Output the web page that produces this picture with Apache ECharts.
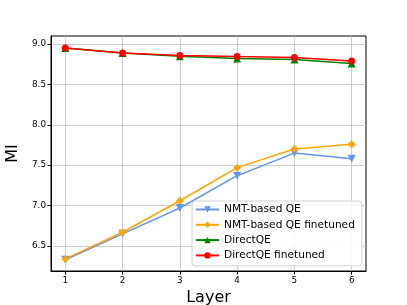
<!DOCTYPE html>
<html><head><meta charset="utf-8">
<script src="https://cdn.jsdelivr.net/npm/echarts@6/dist/echarts.min.js"></script>
<style>html,body{margin:0;padding:0;background:#fff}#c{width:407px;height:305px}</style>
</head><body><div id="c"></div>
<script>
const layers = [1, 2, 3, 4, 5, 6];
const xTicks = [1, 2, 3, 4, 5, 6];
const yTicks = [6.5, 7.0, 7.5, 8.0, 8.5, 9.0];
const nmtQE = [6.33, 6.65, 6.97, 7.37, 7.65, 7.58];
const nmtQEFinetuned = [6.34, 6.67, 7.06, 7.47, 7.70, 7.76];
const directQE = [8.95, 8.89, 8.85, 8.82, 8.81, 8.76];
const directQEFinetuned = [8.95, 8.89, 8.86, 8.845, 8.835, 8.79];

const F = 'DejaVu Sans';
function mk(name, vals, color, symbol, rotate) {
  return {
    name, type: 'line', data: layers.map((l, i) => [l, vals[i]]),
    symbol, symbolSize: symbol === 'circle' ? 7 : 8, symbolRotate: rotate || 0,
    lineStyle: { color, width: 1.5 }, itemStyle: { color },
    emphasis: { disabled: true }, animation: false
  };
}
const chart = echarts.init(document.getElementById('c'), null, { renderer: 'canvas' });
chart.setOption({
  animation: false,
  grid: { left: 51, right: 41, top: 36, bottom: 34, show: true, borderColor: '#000', borderWidth: 1, backgroundColor: 'transparent', containLabel: false, outerBoundsMode: 'none' },
  xAxis: {
    type: 'value', min: 0.75, max: 6.25,
    name: 'Layer', nameLocation: 'middle', nameGap: 16,
    nameTextStyle: { fontFamily: F, fontSize: 16, color: '#000' },
    axisLine: { show: true, lineStyle: { color: '#000' } },
    axisTick: { show: true, length: 3.5, lineStyle: { color: '#000' }, customValues: xTicks },
    axisLabel: { fontFamily: F, fontSize: 8.8, color: '#000', margin: 5, customValues: xTicks, formatter: v => String(v) },
    splitLine: { show: true, lineStyle: { color: '#c0c0c0', width: 0.8 }, customValues: xTicks }
  },
  yAxis: {
    type: 'value', min: 6.19, max: 9.10,
    name: 'MI', nameLocation: 'middle', nameGap: 24, nameRotate: 90,
    nameTextStyle: { fontFamily: F, fontSize: 16, color: '#000' },
    axisLine: { show: true, lineStyle: { color: '#000' } },
    axisTick: { show: true, length: 3.5, lineStyle: { color: '#000' }, customValues: yTicks },
    axisLabel: { fontFamily: F, fontSize: 8.8, color: '#000', margin: 5, customValues: yTicks, formatter: v => v.toFixed(1) },
    splitLine: { show: true, lineStyle: { color: '#c0c0c0', width: 0.8 }, customValues: yTicks }
  },
  legend: {
    orient: 'vertical', left: 192, top: 201,
    itemWidth: 23, itemHeight: 8, itemGap: 4.3,
    padding: [3, 7, 5, 3],
    backgroundColor: 'rgba(255,255,255,0.85)', borderColor: '#d0d0d0', borderWidth: 1, borderRadius: 3,
    textStyle: { fontFamily: F, fontSize: 10.6, color: '#000' },
    data: ['NMT-based QE', 'NMT-based QE finetuned', 'DirectQE', 'DirectQE finetuned']
  },
  series: [
    mk('NMT-based QE', nmtQE, '#6495ED', 'triangle', 180),
    mk('NMT-based QE finetuned', nmtQEFinetuned, '#FFA500', 'diamond'),
    mk('DirectQE', directQE, '#008000', 'triangle'),
    mk('DirectQE finetuned', directQEFinetuned, '#FF0000', 'circle')
  ]
});
</script></body></html>
